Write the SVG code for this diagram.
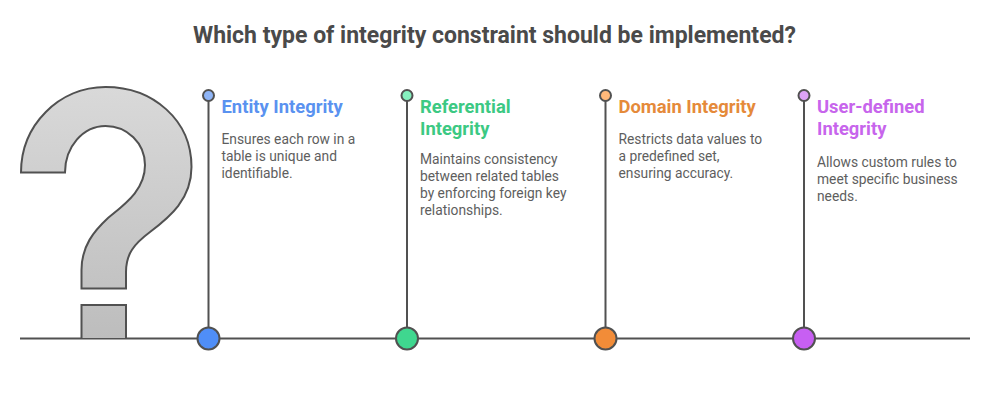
<svg xmlns="http://www.w3.org/2000/svg" width="1000" height="402" viewBox="0 0 1000 402">
<defs>
<linearGradient id="g" gradientUnits="userSpaceOnUse" x1="0" y1="87" x2="0" y2="338"><stop offset="0" stop-color="#d9d9d9"/><stop offset="1" stop-color="#bdbdbd"/></linearGradient>
</defs>
<style>
.l{fill:none;stroke:#515151;stroke-width:2}
.d{stroke:#515151;stroke-width:2}
.t{font-family:Roboto,sans-serif;font-weight:700;font-size:18.400px}
.b{font-family:Roboto,sans-serif;font-size:13.800px;fill:#5e5e5e}
</style>
<rect width="1000" height="402" fill="#fff"/>
<text x="494.500" y="43" text-anchor="middle" font-family="Roboto,sans-serif" font-weight="700" font-size="23px" fill="#4a4a4a">Which type of integrity constraint should be implemented?</text>
<g id="connectors">
<path class="l" d="M20 338.500H970M208.500 95V338M407 95V338M605.500 95V338M804 95V338"/>
</g>
<g id="question">
<path fill="url(#g)" class="d" d="M21 172.500C21 125 59 87 105.500 87C153 87 191.500 120 191.500 167C191.500 199 170 217 150 232C134 244 126 254 126 272V288.500H81.500V270C81.500 246 94 231 108 218C125 204 145 190 145 165C145 143 127 126 105.500 126C83 126 65 147 65 172.500Z"/>
<path fill="url(#g)" class="d" d="M81.500 338V305H126V338"/>
</g>
<g id="entity">
<circle cx="208.500" cy="95.500" r="5.500" fill="#8fb5f7" class="d"/>
<circle cx="208.500" cy="338.500" r="11" fill="#4f8ef7" class="d"/>
<text class="t" fill="#5a92f0" x="221.500" y="113">Entity Integrity</text>
<text class="b" x="221.500" y="144">Ensures each row in a</text>
<text class="b" x="221.500" y="161">table is unique and</text>
<text class="b" x="221.500" y="177.500">identifiable.</text>
</g>
<g id="referential">
<circle cx="407" cy="95.500" r="5.500" fill="#86f0bf" class="d"/>
<circle cx="407" cy="338.500" r="11" fill="#3fd78f" class="d"/>
<text class="t" fill="#3cc983" x="420" y="113">Referential</text>
<text class="t" fill="#3cc983" x="420" y="135">Integrity</text>
<text class="b" x="420" y="164">Maintains consistency</text>
<text class="b" x="420" y="181">between related tables</text>
<text class="b" x="420" y="197.500">by enforcing foreign key</text>
<text class="b" x="420" y="214.500">relationships.</text>
</g>
<g id="domain">
<circle cx="605.500" cy="95.500" r="5.500" fill="#ffb87a" class="d"/>
<circle cx="605.500" cy="338.500" r="11" fill="#f28c38" class="d"/>
<text class="t" fill="#e58a3a" x="618.500" y="113">Domain Integrity</text>
<text class="b" x="618.500" y="144">Restricts data values to</text>
<text class="b" x="618.500" y="161">a predefined set,</text>
<text class="b" x="618.500" y="177.500">ensuring accuracy.</text>
</g>
<g id="user">
<circle cx="804" cy="95.500" r="5.500" fill="#dda3f7" class="d"/>
<circle cx="804" cy="338.500" r="11" fill="#c75ff2" class="d"/>
<text class="t" fill="#c765ec" x="817" y="113">User-defined</text>
<text class="t" fill="#c765ec" x="817" y="135">Integrity</text>
<text class="b" x="817" y="167">Allows custom rules to</text>
<text class="b" x="817" y="184">meet specific business</text>
<text class="b" x="817" y="200.500">needs.</text>
</g>
</svg>
